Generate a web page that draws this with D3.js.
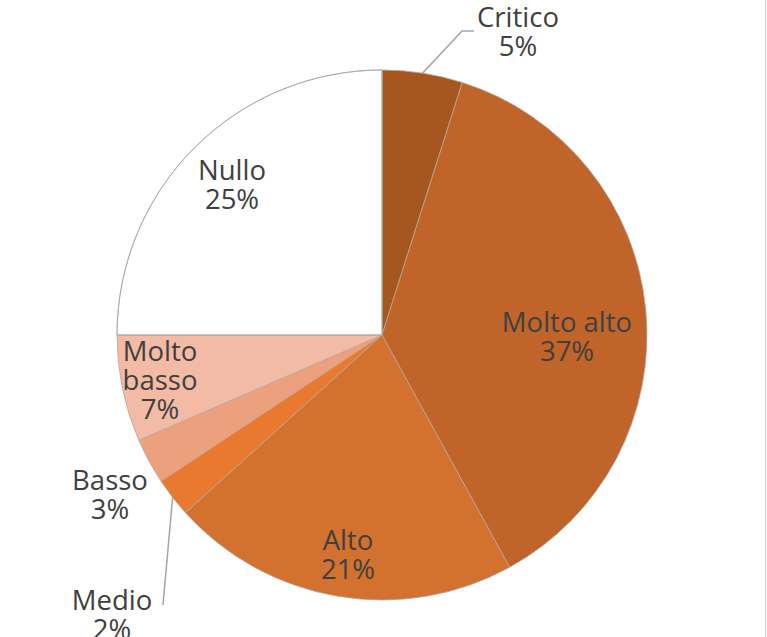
<!DOCTYPE html>
<html><head><meta charset="utf-8">
<script src="https://cdn.jsdelivr.net/npm/d3@7"></script>
<style>html,body{margin:0;padding:0;background:#fff;}svg{display:block;}</style>
</head><body>
<svg id="c" width="767" height="637"></svg>
<script>
const categories = ["Critico","Molto alto","Alto","Medio","Basso","Molto basso","Nullo"];
const values = [4.9, 37.1, 21.3, 2.4, 2.8, 6.5, 25.0];
const labels = ["5%","37%","21%","2%","3%","7%","25%"];
const colors = ["#A5571F","#C0642A","#D3712F","#E9792F","#EDA07E","#F3BBA5","#FFFFFF"];
// label layout (text line arrays and centre positions)
const labelLines = [["Critico"],["Molto alto"],["Alto"],["Medio"],["Basso"],["Molto","basso"],["Nullo"]];
const labelXY = [[518,17],[567,322],[348,540],[112,600],[110,480],[160,351],[232,170]];

const svg = d3.select("#c");
const cx = 382, cy = 335, r = 265;
const g = svg.append("g").attr("transform", `translate(${cx},${cy})`);

const pie = d3.pie().sort(null).value(d => d)(values);
const arc = d3.arc().innerRadius(0).outerRadius(r);

g.selectAll("path").data(pie).join("path")
  .attr("d", arc)
  .attr("fill", (d,i) => colors[i])
  .attr("stroke", "#b5a79c")
  .attr("stroke-width", 0.8);
g.append("path").datum(pie[6]).attr("d", arc).attr("fill","none").attr("stroke","#a6a6a6").attr("stroke-width",0.8);

function edgePt(d){ const a=(d.startAngle+d.endAngle)/2; return [cx + r*Math.sin(a), cy - r*Math.cos(a)]; }
const p0 = edgePt(pie[0]);
svg.append("polyline").attr("points", `${p0[0]},${p0[1]} 462,31 474,31`)
  .attr("fill","none").attr("stroke","#a6a6a6").attr("stroke-width",1.5);
const p3 = edgePt(pie[3]);
svg.append("polyline").attr("points", `${p3[0]},${p3[1]} 163,605`)
  .attr("fill","none").attr("stroke","#a6a6a6").attr("stroke-width",1.5);

const lh = 29;
categories.forEach((c,i) => {
  const lines = labelLines[i].concat([labels[i]]);
  lines.forEach((ln,j) => {
    svg.append("text").attr("text-anchor","middle")
      .attr("font-family","'Open Sans', sans-serif").attr("font-size",27.5).attr("fill","#404040")
      .attr("x", labelXY[i][0]).attr("y", labelXY[i][1] + j*lh).attr("dy","0.36em").text(ln);
  });
});

svg.append("line").attr("x1",765.5).attr("x2",765.5).attr("y1",0).attr("y2",637).attr("stroke","#d9d9d9").attr("stroke-width",1.5);
</script>
</body></html>
